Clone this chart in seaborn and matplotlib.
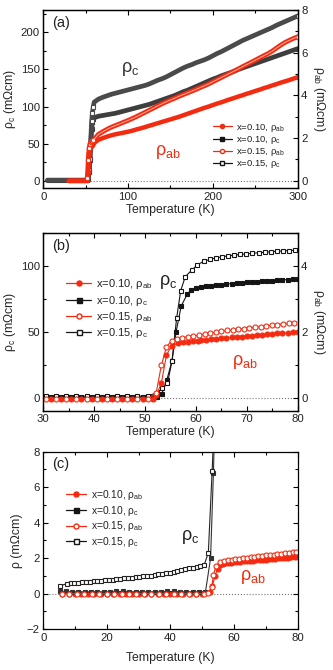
import matplotlib
matplotlib.use("Agg")
import matplotlib.pyplot as plt
import seaborn as sns
from matplotlib.ticker import MultipleLocator
from matplotlib.lines import Line2D

# ---------------- data ----------------
# Panel (a): 0-300 K
T_a_c = [5, 10, 15, 20, 25, 30, 35, 40, 45, 50, 52, 53, 54, 55, 56, 57, 58, 59,
         60, 65, 70, 75, 80, 85, 90, 95, 100, 105, 110, 115, 120, 125, 130, 135, 140, 145, 150,
         155, 160, 165, 170, 175, 180, 185, 190, 195, 200, 205, 210, 215, 220, 225, 230, 235,
         240, 245, 250, 255, 260, 265, 270, 275, 280, 285, 290, 295, 300]
T_a_ab = [30, 35, 40, 45, 50, 52, 53, 54, 55, 56, 57, 58, 59,
          60, 65, 70, 75, 80, 85, 90, 95, 100, 105, 110, 115, 120, 125, 130, 135, 140, 145, 150,
          155, 160, 165, 170, 175, 180, 185, 190, 195, 200, 205, 210, 215, 220, 225, 230, 235,
          240, 245, 250, 255, 260, 265, 270, 275, 280, 285, 290, 295, 300]
rc010_a = [0.2, 0.2, 0.2, 0.2, 0.2, 0.2, 0.2, 0.2, 0.2, 0.2, 0.5, 3, 12, 28, 50, 70, 79, 83,
           85, 87, 88, 89, 90, 91, 92.5, 94, 95.5, 97, 98.5, 100, 101.5, 103, 105, 107, 109, 111, 113,
           115, 117.5, 120, 122, 124.5, 127, 129.5, 132, 134.5, 137, 139, 141.5, 143.5, 145.5, 147.5,
           150, 152, 154, 156, 158, 160, 162, 164, 166, 168, 170, 172, 174, 176, 178]
rc015_a = [1, 1, 1, 1, 1, 1, 1, 1, 1, 1, 2, 6, 15, 30, 55, 80, 92, 100,
           106, 110, 112.5, 114.5, 116.5, 118, 119.5, 121, 122.5, 124, 125.5, 127, 128.5, 130.5,
           133, 135.5, 137.5, 140, 143, 146, 149, 152, 154.5, 156.5, 159, 161, 163, 165.5, 168.5,
           171.5, 174, 177, 180, 183, 186, 189, 191.5, 194, 196.5, 199, 201.5, 204, 206.5, 209.5,
           212, 214.5, 217, 219.5, 222]
rab010_a = [0, 0, 0, 0, 0, 0.05, 0.4, 1.3, 1.56, 1.64, 1.70, 1.74, 1.76,
            1.78, 1.92, 2.0, 2.07, 2.13, 2.18, 2.22, 2.26, 2.30, 2.35, 2.41, 2.46, 2.52, 2.58, 2.64,
            2.70, 2.76, 2.82, 2.88, 2.94, 3.0, 3.07, 3.14, 3.21, 3.28, 3.35, 3.42, 3.48, 3.55, 3.62,
            3.68, 3.75, 3.82, 3.88, 3.95, 4.01, 4.08, 4.14, 4.21, 4.27, 4.34, 4.40, 4.47, 4.53, 4.60,
            4.66, 4.72, 4.79, 4.85]
rab015_a = [0, 0, 0, 0, 0, 0.15, 0.98, 1.54, 1.73, 1.80, 1.85, 1.88, 1.91,
            1.95, 2.18, 2.30, 2.41, 2.51, 2.59, 2.67, 2.75, 2.83, 2.92, 3.01, 3.11, 3.21, 3.31, 3.41,
            3.51, 3.61, 3.70, 3.79, 3.87, 3.96, 4.04, 4.12, 4.20, 4.28, 4.37, 4.45, 4.54, 4.64, 4.74,
            4.84, 4.94, 5.04, 5.14, 5.24, 5.35, 5.45, 5.55, 5.65, 5.76, 5.86, 5.96, 6.08, 6.22, 6.36,
            6.48, 6.58, 6.67, 6.75]

# Panel (b): 30-80 K
T_b_c015 = [30.5, 32.5, 34.5, 36.5, 38.5, 40.5, 42.5, 44.5, 46.5, 48.5, 50.5,
            52.3, 53.4, 54.4, 55.3, 56.2, 57.0, 57.9, 59.2,
            60.3, 61.5, 62.7, 63.9, 65.1, 66.3, 67.5, 68.7, 69.9, 71.1, 72.3, 73.5, 74.7, 75.9,
            77.1, 78.3, 79.5]
rc015_b = [1, 1, 1, 1, 1, 1, 1, 1, 1, 1, 1,
           3.8, 6.9, 10.7, 27.9, 60.2, 81.2, 91.9, 97,
           101, 103.5, 105, 106.2, 107, 107.7, 108.3, 108.8, 109.2, 109.7, 110.1, 110.5, 110.8,
           111.2, 111.5, 111.8, 112]
T_b_c010 = [31.5, 33.5, 35.5, 37.5, 39.5, 41.5, 43.5, 45.5, 47.5, 49.5, 51.5,
            52.4, 53.3, 54.3, 55.3, 56.1, 57.1, 58.3, 59.1,
            60, 61, 62, 63, 64, 65, 66, 67, 68, 69, 70, 71, 72, 73, 74, 75, 76, 77, 78, 79, 80]
rc010_b = [0.3, 0.3, 0.3, 0.3, 0.3, 0.3, 0.3, 0.3, 0.3, 0.3, 0.3,
           0.5, 3, 13.7, 27.9, 50, 69.5, 78.7, 82,
           83, 84, 84.6, 85.1, 85.5, 85.9, 86.3, 86.6, 87, 87.3, 87.5, 87.8, 88.1, 88.4, 88.6,
           88.9, 89.1, 89.4, 89.7, 89.9, 90.2]
T_b_ab015 = [30.5, 32.5, 34.5, 36.5, 38.5, 40.5, 42.5, 44.5, 46.5, 48.5, 50.5,
             52.2, 53.2, 54.2, 55.2, 56.2, 57.3, 58.4, 59.5, 60.6, 61.7, 62.8, 63.9, 65, 66.1,
             67.2, 68.3, 69.4, 70.5, 71.6, 72.7, 73.8, 74.9, 76, 77.1, 78.2, 79.3]
rab015_b = [-0.05, -0.05, -0.05, -0.05, -0.05, -0.05, -0.05, -0.05, -0.05, -0.05, -0.05,
            0.15, 0.98, 1.54, 1.73, 1.79, 1.82, 1.85, 1.87, 1.9, 1.93, 1.96, 1.99, 2.02, 2.04,
            2.06, 2.08, 2.1, 2.12, 2.14, 2.16, 2.18, 2.2, 2.22, 2.24, 2.26, 2.28]
T_b_ab010 = [31.5, 33.5, 35.5, 37.5, 39.5, 41.5, 43.5, 45.5, 47.5, 49.5, 51.5,
             52.2, 53.2, 54.2, 55.2, 56.5, 57.5, 58.5, 59.5, 60.5,
             61, 62, 63, 64, 65, 66, 67, 68, 69, 70, 71, 72, 73, 74, 75, 76, 77, 78, 79, 80]
rab010_b = [-0.05, -0.05, -0.05, -0.05, -0.05, -0.05, -0.05, -0.05, -0.05, -0.05, -0.05,
            0.07, 0.43, 1.29, 1.56, 1.66, 1.68, 1.70, 1.72, 1.73,
            1.745, 1.76, 1.775, 1.79, 1.80, 1.815, 1.83, 1.84, 1.855, 1.87, 1.88, 1.895, 1.91,
            1.92, 1.935, 1.95, 1.96, 1.975, 1.99, 2.0]

# Panel (c): 0-80 K
T_c_c015 = [5.2, 7.4, 8.6, 9.8, 11, 12.2, 13.4, 14.6, 15.8, 17, 18.2, 19.4, 20.6, 21.8, 23,
            24.2, 25.4, 26.6, 27.8, 29, 30.2, 31.4, 32.6, 33.8, 35, 36.2, 37.4, 38.6, 39.8, 41,
            42.2, 43.4, 44.6, 45.8, 47, 48.2, 49.4, 50.6, 51.9, 53.1, 54.3]
rc015_c = [0.45, 0.55, 0.57, 0.59, 0.61, 0.63, 0.65, 0.67, 0.69, 0.71, 0.73, 0.75, 0.77, 0.79,
           0.81, 0.83, 0.86, 0.88, 0.9, 0.92, 0.95, 0.97, 1.0, 1.02, 1.05, 1.08, 1.11, 1.15, 1.18,
           1.22, 1.27, 1.32, 1.37, 1.42, 1.47, 1.52, 1.57, 1.62, 2.31, 6.92, 12]
T_c_c010 = [5.2, 7, 9, 11, 13, 15, 17, 19, 21, 23, 25, 27, 29, 31, 33, 35, 37, 39, 41, 43, 45,
            47, 49, 51, 52.6, 53.5, 54.5]
rc010_c = [0.15, 0.12, 0.1, 0.1, 0.1, 0.1, 0.1, 0.1, 0.1, 0.12, 0.12, 0.1, 0.1, 0.1, 0.1, 0.1,
           0.1, 0.12, 0.12, 0.1, 0.1, 0.1, 0.1, 0.1, 1.99, 6.8, 14]
T_c_ab015 = [5.8, 8.2, 10.5, 12.9, 15.2, 17.6, 19.9, 22.3, 24.6, 27, 29.3, 31.7, 34, 36.4, 38.7,
             41.1, 43.4, 45.8, 48.1, 50.5, 51.9, 53, 53.5, 54.3, 55.6, 56.8, 58, 59.2, 60.4,
             61.6, 62.8, 64, 65.2, 66.4, 67.6, 68.8, 70, 71.2, 72.4, 73.6, 74.8, 76, 77.2, 78.4,
             79.6]
rab015_c = [0, 0, 0, 0, 0, 0, 0, 0, 0, 0, 0, 0, 0, 0, 0, 0, 0, 0, 0, 0,
            0.02, 0.39, 1.05, 1.56, 1.8, 1.84, 1.87, 1.9, 1.93, 1.96, 1.99, 2.02, 2.05, 2.08,
            2.1, 2.13, 2.15, 2.18, 2.2, 2.23, 2.25, 2.28, 2.3, 2.33, 2.35]
T_c_ab010 = [6, 8, 10, 12, 14, 16, 18, 20, 22, 24, 26, 28, 30, 32, 34, 36, 38, 40, 42, 44, 46,
             48, 50, 52.4, 53.2, 54, 54.8, 55.6, 56.5, 57, 58, 59, 60, 61, 62, 63, 64, 65, 66, 67,
             68, 69, 70, 71, 72, 73, 74, 75, 76, 77, 78, 79, 80]
rab010_c = [0, 0, 0, 0, 0, 0, 0, 0, 0, 0, 0, 0, 0, 0, 0, 0, 0, 0, 0, 0, 0, 0, 0,
            0.1, 0.45, 1.0, 1.4, 1.6, 1.68, 1.70, 1.72, 1.74, 1.76, 1.78, 1.79, 1.81, 1.83, 1.84,
            1.86, 1.88, 1.89, 1.91, 1.92, 1.94, 1.95, 1.97, 1.98, 2.0, 2.01, 2.03, 2.04, 2.06, 2.08]

legend_labels = ["x=0.10, ρ$_\\mathrm{ab}$", "x=0.10, ρ$_\\mathrm{c}$",
                 "x=0.15, ρ$_\\mathrm{ab}$", "x=0.15, ρ$_\\mathrm{c}$"]

# ---------------- style ----------------
sns.set_style("ticks")
plt.rcParams['font.family'] = ['Liberation Sans', 'DejaVu Sans']
plt.rcParams['mathtext.fontset'] = 'custom'
plt.rcParams['mathtext.rm'] = 'Liberation Sans'
plt.rcParams['mathtext.it'] = 'Liberation Sans:italic'
plt.rcParams['mathtext.bf'] = 'Liberation Sans:bold'
plt.rcParams['axes.edgecolor'] = 'black'
plt.rcParams['axes.linewidth'] = 0.9
plt.rcParams['text.color'] = '#222222'
plt.rcParams['xtick.color'] = 'black'
plt.rcParams['ytick.color'] = 'black'
plt.rcParams['xtick.labelcolor'] = '#222222'
plt.rcParams['ytick.labelcolor'] = '#222222'

RED = '#f42b10'
GREY = '#3e3e3e'
BLACK = '#151515'
TICK_FS = 8.2
LAB_FS = 8.8


def series(ax, T, y, color, marker, filled, ms, lw=0.8, zorder=2, **kw):
    sns.lineplot(x=T, y=y, ax=ax, color=color, marker=marker, markersize=ms,
                 markerfacecolor=color if filled else 'white', markeredgecolor=color,
                 markeredgewidth=0.8, linewidth=lw, estimator=None, errorbar=None,
                 sort=False, legend=False, zorder=zorder, **kw)


def ticks(ax, xmaj, xmin, ymaj, ymin, right=True):
    ax.xaxis.set_major_locator(MultipleLocator(xmaj))
    ax.xaxis.set_minor_locator(MultipleLocator(xmin))
    ax.yaxis.set_major_locator(MultipleLocator(ymaj))
    ax.yaxis.set_minor_locator(MultipleLocator(ymin))
    ax.tick_params(which='both', direction='in', top=True, right=right,
                   labelsize=TICK_FS, width=0.8, pad=2.5)
    ax.tick_params(which='major', length=3.5)
    ax.tick_params(which='minor', length=2)


def handles(ms):
    return [
        Line2D([], [], color=RED, marker='o', ms=ms, mfc=RED, mec=RED, lw=0.9),
        Line2D([], [], color=BLACK, marker='s', ms=ms, mfc=BLACK, mec=BLACK, lw=0.9),
        Line2D([], [], color=RED, marker='o', ms=ms, mfc='white', mec=RED, lw=0.9),
        Line2D([], [], color=BLACK, marker='s', ms=ms, mfc='white', mec=BLACK, lw=0.9),
    ]


fig = plt.figure(figsize=(3.33, 6.70), dpi=100)
axA = fig.add_axes([0.130, 0.719, 0.764, 0.266])
axB = fig.add_axes([0.130, 0.387, 0.764, 0.265])
axC = fig.add_axes([0.130, 0.061, 0.764, 0.265])

# ---------------- panel (a) ----------------
axA2 = axA.twinx()
ia_c = [10, 11, 12, 13, 14, 15, 16, 17, len(T_a_c) - 1]
ia_ab = [5, 6, 7, 8, 9, 10, 11, 12, len(T_a_ab) - 1]
axA.axhline(0, color='#777777', ls=':', lw=0.8, zorder=0)
series(axA, T_a_c, rc010_a, GREY, 's', True, 3.2, lw=3.4, markevery=ia_c)
series(axA, T_a_c, rc015_a, '#4a4a4a', 's', False, 3.2, lw=3.4, markevery=ia_c)
series(axA2, T_a_ab, rab010_a, RED, 'o', True, 3.2, lw=3.2, markevery=ia_ab)
series(axA2, T_a_ab, rab015_a, RED, 'o', False, 3.2, lw=3.4, markevery=ia_ab)
series(axA2, T_a_ab[13:], rab015_a[13:], '#ffb0a0', None, False, 1, lw=0.7, zorder=3)
axA.set_xlim(0, 300)
axA.set_ylim(-10, 230)
axA2.set_ylim(-10 / 28.75, 8)
ticks(axA, 100, 50, 50, 25, right=False)
axA2.yaxis.set_major_locator(MultipleLocator(2))
axA2.yaxis.set_minor_locator(MultipleLocator(1))
axA2.tick_params(which='both', direction='in', right=True, labelsize=TICK_FS, width=0.8, pad=2.5)
axA2.tick_params(which='major', length=3.5)
axA2.tick_params(which='minor', length=2)
axA.set_xlabel("Temperature (K)", fontsize=LAB_FS, labelpad=1.5)
axA.set_ylabel("ρ$_\\mathrm{c}$ (mΩcm)", fontsize=LAB_FS, labelpad=2)
axA2.set_ylabel("ρ$_\\mathrm{ab}$ (mΩcm)", fontsize=LAB_FS, rotation=270, labelpad=14)
axA.text(0.035, 0.93, "(a)", transform=axA.transAxes, fontsize=10.5, va='center')
axA.text(102, 150, "ρ$_\\mathrm{c}$", fontsize=13, color='#333333', ha='center', va='center')
axA2.text(147, 39 / 28.75, "ρ$_\\mathrm{ab}$", fontsize=13, color=RED, ha='center', va='center')
axA2.legend(handles(3.0), legend_labels, loc='upper left', bbox_to_anchor=(0.645, 0.405),
            frameon=False, fontsize=6.8, handlelength=2.0, handletextpad=0.4,
            labelspacing=0.02, borderpad=0.1)

# ---------------- panel (b) ----------------
axB2 = axB.twinx()
axB.axhline(0, color='#777777', ls=':', lw=0.8, zorder=0)
series(axB, T_b_c010, rc010_b, BLACK, 's', True, 3.4)
series(axB, T_b_c015, rc015_b, BLACK, 's', False, 3.4)
series(axB2, T_b_ab010, rab010_b, RED, 'o', True, 3.6)
series(axB2, T_b_ab015, rab015_b, RED, 'o', False, 3.6)
axB.set_xlim(30, 80)
axB.set_ylim(-10, 125)
axB2.set_ylim(-0.4, 5)
ticks(axB, 10, 5, 50, 25, right=False)
axB2.yaxis.set_major_locator(MultipleLocator(2))
axB2.yaxis.set_minor_locator(MultipleLocator(1))
axB2.tick_params(which='both', direction='in', right=True, labelsize=TICK_FS, width=0.8, pad=2.5)
axB2.tick_params(which='major', length=3.5)
axB2.tick_params(which='minor', length=2)
axB.set_xlabel("Temperature (K)", fontsize=LAB_FS, labelpad=1.5)
axB.set_ylabel("ρ$_\\mathrm{c}$ (mΩcm)", fontsize=LAB_FS, labelpad=2)
axB2.set_ylabel("ρ$_\\mathrm{ab}$ (mΩcm)", fontsize=LAB_FS, rotation=270, labelpad=14)
axB.text(0.035, 0.93, "(b)", transform=axB.transAxes, fontsize=10.5, va='center')
axB.text(54.6, 88, "ρ$_\\mathrm{c}$", fontsize=13, color='#222222', ha='center', va='center')
axB.text(69.6, 27, "ρ$_\\mathrm{ab}$", fontsize=13, color=RED, ha='center', va='center')
axB2.legend(handles(3.6), legend_labels, loc='upper left', bbox_to_anchor=(0.06, 0.795),
            frameon=False, fontsize=8, handlelength=2.2, handletextpad=0.5,
            labelspacing=0.2, borderpad=0.2)

# ---------------- panel (c) ----------------
axC.axhline(0, color='#777777', ls=':', lw=0.8, zorder=0)
series(axC, T_c_ab010, rab010_c, RED, 'o', True, 3.6)
series(axC, T_c_c010, rc010_c, '#333333', 's', True, 3.4)
series(axC, T_c_ab015, rab015_c, RED, 'o', False, 3.6)
series(axC, T_c_c015, rc015_c, '#222222', 's', False, 3.4)
axC.set_xlim(0, 80)
axC.set_ylim(-2, 8)
ticks(axC, 20, 10, 2, 1, right=True)
axC.set_xlabel("Temperature (K)", fontsize=LAB_FS, labelpad=7)
axC.set_ylabel("ρ (mΩcm)", fontsize=LAB_FS, labelpad=3)
axC.text(0.035, 0.93, "(c)", transform=axC.transAxes, fontsize=10.5, va='center')
axC.text(46.1, 3.2, "ρ$_\\mathrm{c}$", fontsize=13, color='#222222', ha='center', va='center')
axC.text(66, 0.96, "ρ$_\\mathrm{ab}$", fontsize=13, color=RED, ha='center', va='center')
axC.legend(handles(3.6), legend_labels, loc='upper left', bbox_to_anchor=(0.06, 0.835),
           frameon=False, fontsize=7.4, handlelength=2.0, handletextpad=0.5,
           labelspacing=0.15, borderpad=0.2)

fig.savefig("out.png", dpi=100)
